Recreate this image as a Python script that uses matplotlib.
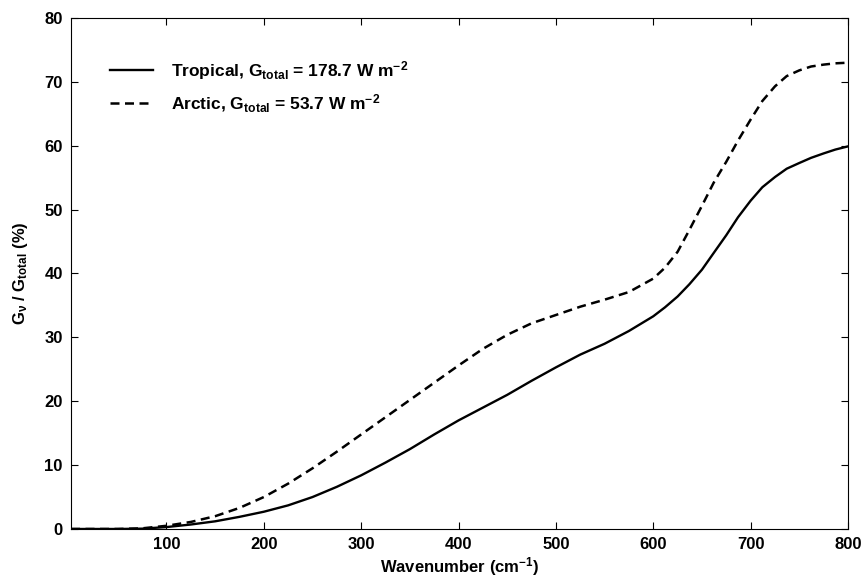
import matplotlib
matplotlib.use("Agg")
import matplotlib.pyplot as plt
import numpy as np

# --- data ---
wavenumber = [2, 50, 75, 100, 125, 150, 175, 200, 225, 250, 275, 300, 325, 350, 375,
              400, 425, 450, 475, 500, 525, 550, 575, 600, 612, 625, 637, 650, 662,
              675, 687, 700, 712, 725, 737, 750, 762, 775, 787, 800]
tropical = [0.0, 0.0, 0.05, 0.3, 0.7, 1.2, 1.9, 2.7, 3.7, 5.0, 6.6, 8.4, 10.4, 12.5, 14.8,
            17.0, 19.0, 21.0, 23.2, 25.3, 27.3, 29.0, 31.0, 33.3, 34.7, 36.4, 38.3, 40.6, 43.2,
            46.0, 48.8, 51.4, 53.5, 55.1, 56.4, 57.3, 58.1, 58.8, 59.4, 59.9]
arctic = [0.0, 0.0, 0.1, 0.5, 1.1, 2.0, 3.3, 5.0, 7.1, 9.5, 12.1, 14.8, 17.5, 20.2, 22.9,
          25.6, 28.2, 30.4, 32.2, 33.5, 34.8, 35.9, 37.1, 39.2, 40.9, 43.4, 46.8, 50.6, 54.2,
          57.5, 60.8, 64.1, 67.0, 69.3, 70.9, 71.8, 72.4, 72.7, 72.9, 73.0]

labels = [r"Tropical, G$_{total}$ = 178.7 W m$^{-2}$",
          r"Arctic, G$_{total}$ = 53.7 W m$^{-2}$"]

plt.rcParams["font.family"] = "Liberation Sans"
plt.rcParams["font.weight"] = "bold"
plt.rcParams["mathtext.fontset"] = "custom"
plt.rcParams["mathtext.rm"] = "Liberation Sans:bold"
plt.rcParams["mathtext.bf"] = "Liberation Sans:bold"
plt.rcParams["mathtext.it"] = "Liberation Sans:bold"
plt.rcParams["mathtext.default"] = "bf"

fig = plt.figure(figsize=(8.64, 5.78), dpi=100)
ax = fig.add_axes([0.0822, 0.0848, 0.8993, 0.8841])

ax.plot(wavenumber, tropical, color="black", lw=1.7, label=labels[0])
ax.plot(wavenumber, arctic, color="black", lw=1.8, dashes=(3.6, 2.2), label=labels[1])

ax.set_xlim(2, 800)
ax.set_ylim(0, 80)
ax.set_xticks(np.arange(100, 801, 100))
ax.set_yticks(np.arange(0, 81, 10))
ax.tick_params(direction="in", top=True, right=True, length=5, width=0.8,
               labelsize=12, pad=6)
for lab in ax.get_xticklabels() + ax.get_yticklabels():
    lab.set_fontweight("bold")
for sp in ax.spines.values():
    sp.set_linewidth(0.8)

ax.set_xlabel(r"Wavenumber (cm$^{-1}$)", fontsize=12, fontweight="bold", labelpad=2)
ax.set_ylabel(r"G$_{\nu}$ / G$_{total}$ (%)", fontsize=12, fontweight="bold", labelpad=10)

ax.legend(loc="upper left", bbox_to_anchor=(0.03, 0.95), frameon=False,
          handlelength=2.5, handletextpad=1.0, labelspacing=0.6,
          prop={"weight": "bold", "size": 12.5})

plt.savefig("out.png", dpi=100)
plt.close()
